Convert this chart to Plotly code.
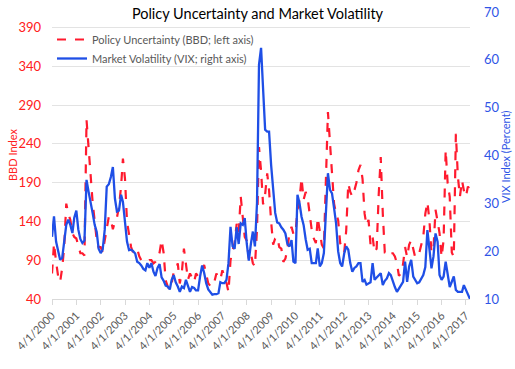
import pandas as pd
import plotly.graph_objects as go

# Monthly data, April 2000 onward
start_month = "2000-04-01"

bbd = [
    73, 112, 88, 70, 62, 80, 107, 163, 150,                 # 2000 Apr-Dec
    142, 125, 120, 118, 107, 99, 99, 96, 271, 240, 200, 165,  # 2001
    140, 116, 107, 107, 100, 115, 128, 146, 142, 130, 140, 145,  # 2002
    159, 185, 221, 195, 140, 120, 107, 100, 102, 105, 95, 90,  # 2003
    90, 88, 88, 90, 90, 86, 88, 92, 100, 116, 99, 64,          # 2004
    56, 52, 60, 75, 77, 86, 60, 75, 105, 84, 65, 73,           # 2005
    68, 62, 73, 69, 75, 77, 84, 70, 60, 57, 56, 62,            # 2006
    73, 68, 65, 77, 70, 61, 49, 90, 103, 112, 137, 125,        # 2007
    172, 140, 120, 115, 92, 99, 86, 82, 130, 236, 205, 162,    # 2008
    175, 202, 180, 140, 110, 118, 120, 107, 105, 88, 92, 105,  # 2009
    125, 133, 124, 124, 155, 168, 196, 168, 178, 170, 150, 129,  # 2010
    118, 112, 145, 128, 110, 105, 190, 281, 241, 198, 163, 150,  # 2011
    142, 112, 105, 100, 128, 189, 178, 172, 180, 190, 206, 213,  # 2012
    195, 150, 135, 142, 110, 120, 100, 105, 175, 223, 150, 100,  # 2013
    100, 103, 99, 99, 95, 86, 70, 73, 85, 107, 94, 110,        # 2014
    116, 105, 94, 99, 99, 110, 120, 150, 165, 142, 100, 105,   # 2015
    155, 140, 125, 94, 116, 232, 189, 172, 100, 94, 253, 198,  # 2016
    172, 193, 180, 172, 185, 180,                              # 2017 Jan-Jun
]

vix = [
    23.0, 27.3, 22.0, 19.8, 18.2, 18.6, 21.5, 25.5, 26.6,
    25.5, 23.8, 27.0, 28.5, 24.5, 22.5, 21.7, 22.2, 34.9, 32.5, 30.5, 28.0,
    25.5, 24.0, 20.5, 19.6, 20.3, 24.5, 33.5, 34.0, 35.5, 37.6, 31.0, 28.3,
    28.5, 31.8, 30.3, 26.0, 22.0, 20.2, 20.3, 20.0, 19.5, 17.8, 17.5, 17.0,
    16.3, 16.0, 17.5, 16.5, 17.5, 15.7, 14.8, 16.5, 17.3, 14.5, 13.8, 12.8,
    12.6, 12.0, 14.0, 15.0, 13.5, 12.6, 11.5, 12.6, 12.3, 14.0, 12.5, 11.5,
    12.5, 12.3, 11.8, 11.8, 14.7, 17.0, 15.5, 13.3, 12.0, 11.5, 10.9, 11.0,
    11.0, 11.2, 13.5, 13.3, 13.3, 14.0, 17.5, 25.1, 21.0, 20.5, 25.0, 21.5,
    25.8, 25.5, 26.9, 21.5, 18.0, 21.5, 24.1, 21.0, 30.0, 59.0, 62.5, 54.0,
    45.4, 45.0, 45.0, 38.0, 33.0, 28.0, 26.0, 25.8, 25.0, 24.5, 23.7, 21.5,
    21.0, 22.3, 17.8, 17.5, 31.8, 30.0, 27.2, 25.5, 22.5, 20.3, 20.5, 17.5,
    17.5, 17.5, 20.6, 16.8, 17.5, 19.6, 27.9, 36.3, 32.8, 32.1, 29.0, 25.8,
    20.0, 17.5, 16.8, 19.5, 21.0, 20.3, 17.5, 15.7, 16.5, 16.8, 17.5, 17.5,
    13.6, 14.0, 13.0, 13.3, 13.5, 17.5, 14.0, 14.5, 15.0, 15.4, 12.9, 13.8,
    14.3, 15.4, 15.0, 13.6, 12.5, 11.5, 12.2, 12.9, 13.6, 17.8, 13.6, 16.8,
    18.2, 14.7, 14.0, 13.3, 13.5, 14.3, 15.0, 16.7, 24.4, 20.5, 16.4, 18.9,
    23.7, 22.0, 15.0, 14.0, 14.7, 17.8, 14.7, 12.5, 13.6, 14.7, 11.9, 11.5,
    11.5, 11.5, 12.9, 12.0, 10.8, 10.0,
]

dates = pd.date_range(start_month, periods=len(bbd), freq="MS")

tick_years = list(range(2000, 2018))
tick_vals = [f"{y}-04-01" for y in tick_years]
tick_text = [f"4/1/{y}" for y in tick_years]

left_ticks = [40, 90, 140, 190, 240, 290, 340, 390]
right_ticks = [10, 20, 30, 40, 50, 60, 70]

RED = "#FF1A2E"
BLUE = "#1F4FE6"
FONT = "Lato"

L, R, T, B = 52, 45, 12, 70
PW = 515 - L - R
PH = 369 - T - B

fig = go.Figure()
fig.add_trace(go.Scatter(
    x=dates, y=bbd, name="Policy Uncertainty (BBD; left axis)",
    mode="lines", line=dict(color=RED, width=2.2, dash="dash"), yaxis="y"))
fig.add_trace(go.Scatter(
    x=dates, y=vix, name="Market Volatility (VIX; right axis)",
    mode="lines", line=dict(color=BLUE, width=2.3), yaxis="y2"))

fig.update_layout(
    width=515, height=369,
    margin=dict(l=L, r=R, t=T, b=B, autoexpand=False),
    paper_bgcolor="white", plot_bgcolor="white",
    font=dict(family=FONT, color="#595959"),
    title=dict(text="Policy Uncertainty and Market Volatility",
               x=0.5, xanchor="center", y=1 - 14 / 369, yanchor="middle",
               font=dict(size=14.5, color="#000000", family=FONT),
               automargin=False),
    xaxis=dict(
        type="date", range=[dates[0], dates[-1]], automargin=False,
        tickvals=tick_vals, ticktext=tick_text, tickangle=-45,
        tickfont=dict(size=11, color="#595959"),
        showgrid=False, showline=True, linecolor="#D9D9D9", linewidth=1,
        ticks="outside", ticklen=5, tickcolor="#D9D9D9",
        zeroline=False),
    yaxis=dict(
        range=[40, 410], tickvals=left_ticks, automargin=False,
        tickfont=dict(size=13, color="#FF2020"),
        showgrid=True, gridcolor="#E3E3E3", gridwidth=1.2,
        zeroline=False, showline=False, ticklabelstandoff=10),
    yaxis2=dict(
        range=[10, 70], tickvals=right_ticks, overlaying="y", side="right",
        automargin=False,
        tickfont=dict(size=13, color="#2F55E6"),
        showgrid=False, zeroline=False, showline=False, ticklabelstandoff=13),
    legend=dict(x=0, y=(369 - B - 25) / PH, xanchor="left", yanchor="top",
                bgcolor="rgba(0,0,0,0)", font=dict(size=11, color="#595959"),
                tracegroupgap=0, itemwidth=30),
    showlegend=True,
    annotations=[
        dict(text="BBD Index", xref="paper", yref="paper",
             x=(12 - L) / PW, y=(369 - B - 155) / PH, textangle=-90,
             showarrow=False, xanchor="center", yanchor="middle",
             font=dict(size=11, color="#FF2020", family=FONT)),
        dict(text="VIX Index (Percent)", xref="paper", yref="paper",
             x=(505 - L) / PW, y=(369 - B - 157) / PH, textangle=-90,
             showarrow=False, xanchor="center", yanchor="middle",
             font=dict(size=11, color="#2F55E6", family=FONT)),
    ],
)

fig.write_html("out.html", config={"displayModeBar": False},
               post_script="document.body.style.margin='0';document.body.style.padding='0';")
